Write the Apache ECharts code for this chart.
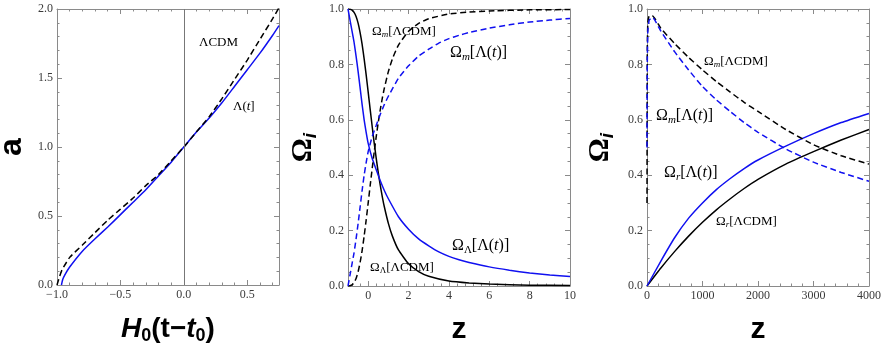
<!DOCTYPE html>
<html>
<head>
<meta charset="utf-8">
<script src="https://cdn.jsdelivr.net/npm/echarts@6/dist/echarts.min.js"></script>
<style>
  html, body { margin: 0; padding: 0; background: #fff; }
  #main { width: 886px; height: 346px; }
</style>
</head>
<body>
<div id="main"></div>
<script>
// ---- panel 1 : a vs H0(t - t0)
var lcdmT = [-1.0, -0.98, -0.96, -0.9, -0.8, -0.7, -0.6, -0.5, -0.4, -0.3, -0.2, -0.1, 0, 0.1, 0.2, 0.3, 0.4, 0.5, 0.6, 0.7, 0.75];
var lcdmA = [0, 0.06, 0.11, 0.2, 0.29, 0.38, 0.47, 0.55, 0.63, 0.72, 0.80, 0.90, 1.0, 1.11, 1.22, 1.35, 1.49, 1.63, 1.78, 1.93, 2.01];
var ltT = [-0.965, -0.955, -0.94, -0.9, -0.8, -0.7, -0.6, -0.5, -0.4, -0.3, -0.2, -0.1, 0, 0.1, 0.2, 0.3, 0.4, 0.5, 0.6, 0.7, 0.75];
var ltA = [0, 0.04, 0.07, 0.13, 0.245, 0.335, 0.42, 0.51, 0.60, 0.69, 0.79, 0.89, 1.0, 1.11, 1.21, 1.32, 1.44, 1.56, 1.68, 1.81, 1.88];

// ---- panel 2 : Omega_i vs z (late times)
var zLcdm = [-1, -0.9, -0.8, -0.7, -0.6, -0.5, -0.4, -0.3, -0.2, -0.1, 0, 0.1, 0.2, 0.3, 0.4, 0.5, 0.6, 0.7, 0.8, 1.0, 1.2, 1.5, 2, 2.5, 3, 4, 5, 6, 8, 10];
var omLamLcdm = [1.0, 0.999, 0.996, 0.988, 0.973, 0.949, 0.915, 0.872, 0.82, 0.762, 0.70, 0.637, 0.575, 0.515, 0.46, 0.409, 0.363, 0.322, 0.286, 0.226, 0.18, 0.13, 0.08, 0.052, 0.035, 0.018, 0.011, 0.007, 0.003, 0.002];
var omMLcdm = [0, 0.001, 0.004, 0.012, 0.027, 0.051, 0.085, 0.128, 0.18, 0.238, 0.30, 0.363, 0.425, 0.485, 0.54, 0.591, 0.637, 0.678, 0.714, 0.774, 0.82, 0.87, 0.92, 0.948, 0.965, 0.982, 0.989, 0.993, 0.997, 0.998];
var zLt = [-1, -0.9, -0.8, -0.7, -0.6, -0.5, -0.4, -0.3, -0.2, -0.1, 0, 0.2, 0.4, 0.6, 0.8, 1.0, 1.5, 2, 2.5, 3, 3.5, 4, 4.5, 5, 6, 7, 8, 9, 10];
var omLamLt = [1.0, 0.96, 0.92, 0.88, 0.83, 0.775, 0.715, 0.655, 0.60, 0.555, 0.515, 0.46, 0.42, 0.38, 0.345, 0.315, 0.25, 0.205, 0.17, 0.145, 0.123, 0.107, 0.095, 0.085, 0.069, 0.057, 0.047, 0.04, 0.034];
var omMLt = [0, 0.04, 0.08, 0.12, 0.17, 0.225, 0.285, 0.345, 0.40, 0.445, 0.485, 0.54, 0.58, 0.62, 0.655, 0.685, 0.75, 0.795, 0.83, 0.855, 0.877, 0.893, 0.905, 0.915, 0.931, 0.943, 0.953, 0.96, 0.966];

// ---- panel 3 : Omega_i vs z (early times)
var zEarly = [0, 5, 15, 40, 100, 250, 500, 750, 1000, 1250, 1500, 1750, 2000, 2500, 3000, 3500, 4000];
var omMLcdmE = [0.3, 0.85, 0.95, 0.975, 0.975, 0.93, 0.875, 0.825, 0.78, 0.738, 0.70, 0.663, 0.63, 0.565, 0.51, 0.47, 0.44];
var omMLtE = [0.5, 0.8, 0.92, 0.96, 0.97, 0.92, 0.845, 0.78, 0.72, 0.672, 0.63, 0.59, 0.555, 0.495, 0.447, 0.41, 0.378];
var zRad = [0, 250, 500, 750, 1000, 1250, 1500, 1750, 2000, 2500, 3000, 3500, 4000];
var omRLcdm = [0, 0.065, 0.125, 0.18, 0.23, 0.275, 0.315, 0.352, 0.385, 0.44, 0.485, 0.527, 0.565];
var omRLt = [0, 0.09, 0.175, 0.245, 0.30, 0.348, 0.388, 0.424, 0.455, 0.505, 0.55, 0.59, 0.623];

// tick labels
var p2MajorX = [0, 2, 4, 6, 8, 10];

function zip(xs, ys) {
    var out = [];
    for (var i = 0; i < xs.length; i++) out.push([xs[i], ys[i]]);
    return out;
}
var p2MinorX = [];
for (var v = -0.8; v <= 10.001; v += 0.4) p2MinorX.push(Math.round(v * 10) / 10);

var BLUE = '#1010f0';
var FRAME = '#8a8a8a';
var serif = 'Liberation Serif';
var sans = 'Liberation Sans';

function minus(s) { return String(s).replace('-', '\u2212'); }

function frameAxis(grid, pos, o) {
    var a = {
        type: 'value',
        gridIndex: grid,
        position: pos,
        scale: true,
        axisLine: { show: true, onZero: false, lineStyle: { color: FRAME, width: 1 } },
        axisTick: { show: true, inside: true, length: 5, lineStyle: { color: FRAME } },
        minorTick: { show: true, length: 2.5, lineStyle: { color: FRAME } },
        splitLine: { show: false },
        axisLabel: { show: false }
    };
    for (var k in o) a[k] = o[k];
    return a;
}
function labelStyle(fmt) {
    return { show: true, margin: 4, color: '#3a3a3a', fontFamily: serif, fontSize: 12, formatter: fmt, showMaxLabel: null };
}
var nameRich = {
    h: { fontFamily: sans, fontWeight: 'bold', fontStyle: 'italic', fontSize: 28, color: '#000' },
    b: { fontFamily: sans, fontWeight: 'bold', fontSize: 28, color: '#000' },
    s: { fontFamily: sans, fontWeight: 'bold', fontSize: 18, color: '#000', padding: [14, 0, 0, 0] },
    o: { fontFamily: serif, fontWeight: 'bold', fontSize: 30, color: '#000' },
    i: { fontFamily: sans, fontWeight: 'bold', fontStyle: 'italic', fontSize: 19, color: '#000', padding: [14, 0, 0, 0] },
    z: { fontFamily: sans, fontWeight: 'bold', fontSize: 30, color: '#000' }
};
var omegaName = { name: '{o|\u03A9}{i|i}', nameLocation: 'middle', nameRotate: 90, nameGap: 28, nameTextStyle: { rich: nameRich } };

var fmt1 = function (v) { return minus(v.toFixed(1)); };
var p1Labels = labelStyle(fmt1);
p1Labels.showMaxLabel = false;

var xAxes = [
    // panel 1
    frameAxis(0, 'bottom', { min: -1, max: 0.75, interval: 0.5, minorTick: { show: true, splitNumber: 5, length: 2.5, lineStyle: { color: FRAME } }, axisLabel: p1Labels,
        name: '{h|H}{s|0}{b|(t\u2212}{h|t}{s|0}{b|)}', nameLocation: 'middle', nameGap: 28, nameTextStyle: { rich: nameRich } }),
    frameAxis(0, 'top', { min: -1, max: 0.75, interval: 0.5, minorTick: { show: true, splitNumber: 5, length: 2.5, lineStyle: { color: FRAME } } }),
    // panel 2
    frameAxis(1, 'bottom', { min: -1, max: 10, minorTick: { show: false },
        axisTick: { show: true, inside: true, length: 5, customValues: p2MajorX, lineStyle: { color: FRAME } },
        axisLabel: (function () { var l = labelStyle(function (v) { return String(v); }); l.customValues = p2MajorX; return l; })(),
        name: '{z|z}', nameLocation: 'middle', nameGap: 29, nameTextStyle: { rich: nameRich } }),
    frameAxis(1, 'bottom', { min: -1, max: 10, minorTick: { show: false }, axisLine: { show: false, onZero: false },
        axisTick: { show: true, inside: true, length: 2.5, customValues: p2MinorX, lineStyle: { color: FRAME } } }),
    frameAxis(1, 'top', { min: -1, max: 10, minorTick: { show: false },
        axisTick: { show: true, inside: true, length: 5, customValues: p2MajorX, lineStyle: { color: FRAME } } }),
    frameAxis(1, 'top', { min: -1, max: 10, minorTick: { show: false }, axisLine: { show: false, onZero: false },
        axisTick: { show: true, inside: true, length: 2.5, customValues: p2MinorX, lineStyle: { color: FRAME } } }),
    // panel 3
    frameAxis(2, 'bottom', { min: 0, max: 4000, interval: 1000, minorTick: { show: true, splitNumber: 5, length: 2.5, lineStyle: { color: FRAME } },
        axisLabel: labelStyle(function (v) { return String(v); }),
        name: '{z|z}', nameLocation: 'middle', nameGap: 29, nameTextStyle: { rich: nameRich } }),
    frameAxis(2, 'top', { min: 0, max: 4000, interval: 1000, minorTick: { show: true, splitNumber: 5, length: 2.5, lineStyle: { color: FRAME } } })
];

var yAxes = [
    frameAxis(0, 'left', { min: 0, max: 2, interval: 0.5, minorTick: { show: true, splitNumber: 5, length: 2.5, lineStyle: { color: FRAME } }, axisLabel: labelStyle(fmt1),
        name: '{b|a}', nameLocation: 'middle', nameRotate: 90, nameGap: 29, nameTextStyle: { rich: { b: { fontFamily: sans, fontWeight: 'bold', fontSize: 32, color: '#000' } } } }),
    frameAxis(0, 'right', { min: 0, max: 2, interval: 0.5, minorTick: { show: true, splitNumber: 5, length: 2.5, lineStyle: { color: FRAME } } }),
    frameAxis(1, 'left', Object.assign({ min: 0, max: 1, interval: 0.2, minorTick: { show: true, splitNumber: 4, length: 2.5, lineStyle: { color: FRAME } }, axisLabel: labelStyle(fmt1) }, omegaName)),
    frameAxis(1, 'right', { min: 0, max: 1, interval: 0.2, minorTick: { show: true, splitNumber: 4, length: 2.5, lineStyle: { color: FRAME } } }),
    frameAxis(2, 'left', Object.assign({ min: 0, max: 1, interval: 0.2, minorTick: { show: true, splitNumber: 4, length: 2.5, lineStyle: { color: FRAME } }, axisLabel: labelStyle(fmt1) }, omegaName, { nameGap: 30 })),
    frameAxis(2, 'right', { min: 0, max: 1, interval: 0.2, minorTick: { show: true, splitNumber: 4, length: 2.5, lineStyle: { color: FRAME } } })
];

function line(xi, yi, data, color, dashed, extra) {
    var s = {
        type: 'line',
        xAxisIndex: xi,
        yAxisIndex: yi,
        data: data,
        showSymbol: false,
        smooth: 0.15,
        animation: false,
        lineStyle: { color: color, width: 1.5, type: dashed ? [6, 3.5] : 'solid' },
        z: dashed ? 3 : 2
    };
    for (var k in extra) s[k] = extra[k];
    return s;
}

var small = { fontFamily: serif, fontSize: 13, color: '#111' };
var smallSub = { fontFamily: serif, fontStyle: 'italic', fontSize: 9, color: '#111', padding: [7, 0, 0, 0] };
var big = { fontFamily: serif, fontSize: 16, color: BLUE };
var bigIt = { fontFamily: serif, fontStyle: 'italic', fontSize: 16, color: BLUE };
var bigSub = { fontFamily: serif, fontStyle: 'italic', fontSize: 11, color: BLUE, padding: [8, 0, 0, 0] };
var bigSubUp = { fontFamily: serif, fontSize: 11, color: BLUE, padding: [8, 0, 0, 0] };
var smallSubUp = { fontFamily: serif, fontSize: 9, color: '#111', padding: [7, 0, 0, 0] };

function note(left, top, text, rich) {
    return { type: 'text', left: left, top: top, z: 100, style: { text: text, rich: rich } };
}
var richBlack = { a: small, s: smallSub, u: smallSubUp };
var richBlue = { a: big, t: bigIt, s: bigSub, u: bigSubUp };

var option = {
    backgroundColor: '#fff',
    animation: false,
    grid: [
        { left: 57, top: 9, width: 222, height: 276, outerBoundsMode: 'none' },
        { left: 348, top: 9, width: 222, height: 277, outerBoundsMode: 'none' },
        { left: 647, top: 9, width: 222, height: 277, outerBoundsMode: 'none' }
    ],
    xAxis: xAxes,
    yAxis: yAxes,
    graphic: [
        note(199, 36, '{a|\u039BCDM}', richBlack),
        note(233, 100, '{a|\u039B(}{t|t}{a|]}', { a: { fontFamily: serif, fontSize: 13, color: BLUE }, t: { fontFamily: serif, fontStyle: 'italic', fontSize: 13, color: BLUE } }),
        note(372, 25, '{a|\u03A9}{s|m}{a|[\u039BCDM]}', richBlack),
        note(450, 45, '{a|\u03A9}{s|m}{a|[\u039B(}{t|t}{a|)]}', richBlue),
        note(452, 238, '{a|\u03A9}{u|\u039B}{a|[\u039B(}{t|t}{a|)]}', richBlue),
        note(370, 261, '{a|\u03A9}{u|\u039B}{a|[\u039BCDM]}', richBlack),
        note(704, 55, '{a|\u03A9}{s|m}{a|[\u039BCDM]}', richBlack),
        note(656, 108, '{a|\u03A9}{s|m}{a|[\u039B(}{t|t}{a|)]}', richBlue),
        note(664, 165, '{a|\u03A9}{s|r}{a|[\u039B(}{t|t}{a|)]}', richBlue),
        note(716, 215, '{a|\u03A9}{s|r}{a|[\u039BCDM]}', richBlack)
    ],
    series: [
        line(0, 0, zip(lcdmT, lcdmA), '#000', true, {
            markLine: { silent: true, symbol: 'none', label: { show: false }, lineStyle: { color: '#777', width: 1, type: 'solid' }, data: [{ xAxis: 0 }] }
        }),
        line(0, 0, zip(ltT, ltA), BLUE, false),
        line(2, 2, zip(zLcdm, omLamLcdm), '#000', false),
        line(2, 2, zip(zLcdm, omMLcdm), '#000', true),
        line(2, 2, zip(zLt, omLamLt), BLUE, false),
        line(2, 2, zip(zLt, omMLt), BLUE, true),
        line(6, 4, zip(zEarly, omMLcdmE), '#000', true),
        line(6, 4, zip(zEarly, omMLtE), BLUE, true),
        line(6, 4, zip(zRad, omRLcdm), '#000', false),
        line(6, 4, zip(zRad, omRLt), BLUE, false)
    ]
};

var chart = echarts.init(document.getElementById('main'));
chart.setOption(option);
window.onresize = function () { chart.resize(); };
</script>
</body>
</html>
